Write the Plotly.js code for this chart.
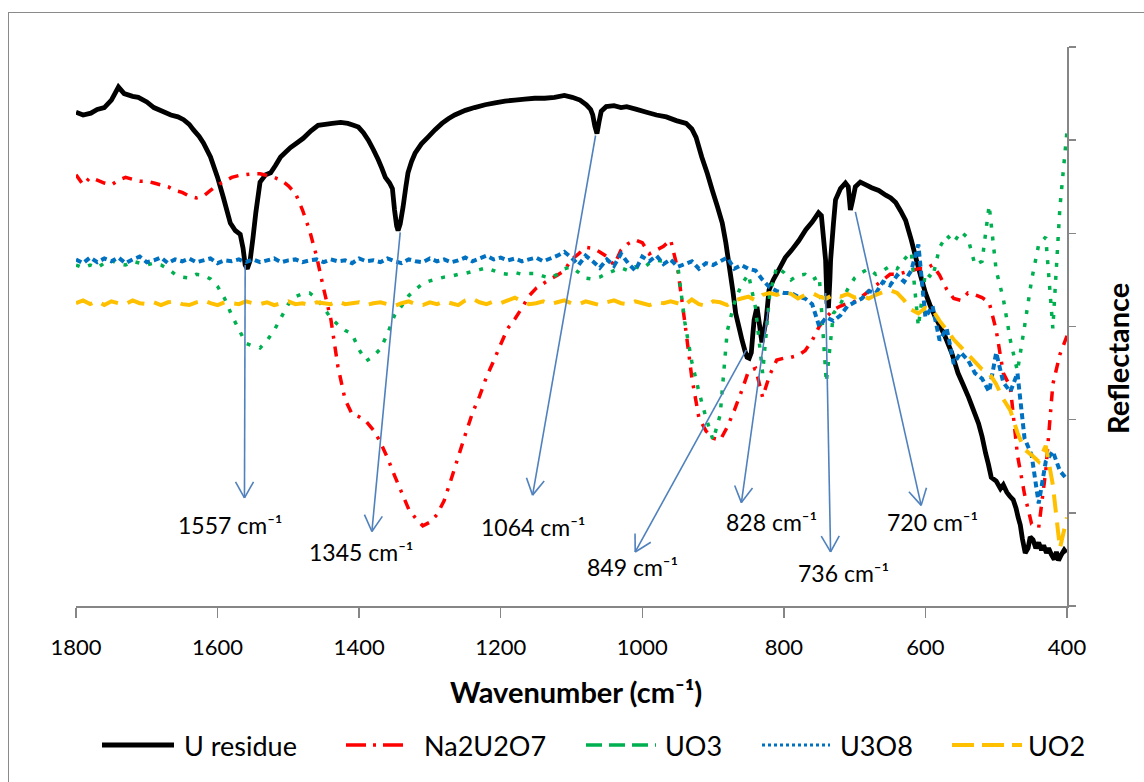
<!DOCTYPE html>
<html><head><meta charset="utf-8">
<script src="https://cdn.plot.ly/plotly-3.0.1.min.js"></script>
<style>
html,body{margin:0;padding:0;background:#fff;}
#wrap{position:relative;width:1144px;height:782px;overflow:hidden;}
#chart{width:1144px;height:782px;}
#frame{position:absolute;left:8px;top:12px;width:1200px;height:820px;border:1.5px solid #8a8a8a;pointer-events:none;box-sizing:border-box;}
</style></head>
<body><div id="wrap"><div id="chart"></div><div id="frame"></div></div>
<script>
// ---------- DATA ----------
const seriesNames = ['U residue', 'Na2U2O7', 'UO3', 'U3O8', 'UO2'];

// U residue spectrum (own sampling)
const uResidueWn = [1800,1790,1779,1770,1760,1750,1740,1732,1720,1712,1700,1690,1678,1666,1656,1648,1640,1634,1626,1620,
1610,1600,1592,1582,1575,1568,1564,1561,1558,1554,1550,1546,1540,1532,1525,1518,1511,1504,1497,1488,
1479,1468,1458,1448,1438,1426,1416,1408,1401,1394,1387,1380,1373,1368,1363,1357,1353,1350,1347,1345,
1342,1338,1334,1331,1326,1321,1312,1303,1293,1283,1274,1265,1250,1237,1222,1208,1194,1180,1166,1152,
1138,1124,1110,1099,1088,1079,1073,1070,1067,1064,1061,1058,1051,1040,1030,1022,1008,994,980,966,
952,938,930,924,916,908,901,894,887,882,877,872,868,863,859,855,852,849,846,844,
842,838,835,831,828,825,821,815,807,798,789,779,769,760,751,747,744,741,739,737,
735,734,730,727,720,713,709,706,703,699,692,684,676,666,656,649,642,635,628,620,
614,607,600,593,586,579,572,563,554,547,539,532,525,520,515,511,507,500,494,490,
485,481,476,472,469,466,463,459,455,452,448,444,440,436,433,429,426,422,418,415,
412,408,404,401];
const uResidueR = [5.30,5.27,5.29,5.33,5.35,5.43,5.57,5.50,5.47,5.46,5.41,5.35,5.31,5.27,5.25,5.22,5.17,5.11,5.04,4.97,
4.82,4.60,4.39,4.11,4.03,3.99,3.84,3.66,3.62,3.71,3.95,4.22,4.55,4.63,4.65,4.73,4.82,4.87,4.92,4.97,
5.02,5.10,5.16,5.17,5.18,5.19,5.18,5.16,5.14,5.08,5.00,4.90,4.79,4.70,4.60,4.54,4.48,4.25,4.08,4.03,
4.10,4.28,4.50,4.65,4.77,4.86,4.96,5.03,5.11,5.18,5.23,5.27,5.32,5.35,5.38,5.40,5.42,5.43,5.44,5.45,
5.45,5.46,5.48,5.46,5.43,5.38,5.33,5.27,5.15,5.07,5.20,5.31,5.36,5.37,5.35,5.36,5.33,5.30,5.27,5.25,
5.21,5.18,5.12,5.03,4.82,4.64,4.46,4.29,4.11,3.90,3.64,3.38,3.14,2.98,2.85,2.74,2.67,2.66,2.72,2.90,
3.07,3.21,3.05,2.83,2.95,3.07,3.39,3.50,3.61,3.74,3.82,3.92,4.04,4.12,4.22,4.19,3.95,3.71,3.25,3.20,
3.50,3.71,4.10,4.36,4.48,4.54,4.50,4.25,4.35,4.50,4.55,4.52,4.49,4.46,4.41,4.38,4.33,4.24,4.14,3.93,
3.75,3.55,3.36,3.22,3.10,3.00,2.89,2.72,2.50,2.38,2.24,2.10,1.96,1.82,1.64,1.52,1.38,1.34,1.26,1.30,
1.22,1.18,1.14,1.05,0.95,0.87,0.72,0.57,0.62,0.74,0.71,0.62,0.68,0.60,0.65,0.57,0.62,0.55,0.50,0.58,
0.49,0.55,0.60,0.57];

// Reference spectra sampled every 10 cm-1
const refWn = [1800,1790,1780,1770,1760,1750,1740,1730,1720,1710,
1700,1690,1680,1670,1660,1650,1640,1630,1620,1610,
1600,1590,1580,1570,1560,1550,1540,1530,1520,1510,
1500,1490,1480,1470,1460,1450,1440,1430,1420,1410,
1400,1390,1380,1370,1360,1350,1340,1330,1320,1310,
1300,1290,1280,1270,1260,1250,1240,1230,1220,1210,
1200,1190,1180,1170,1160,1150,1140,1130,1120,1110,
1100,1090,1080,1070,1060,1050,1040,1030,1020,1010,
1000,990,980,970,960,950,940,930,920,910,
900,890,880,870,860,850,840,830,820,810,
800,790,780,770,760,750,740,730,720,710,
700,690,680,670,660,650,640,630,620,610,
600,590,580,570,560,550,540,530,520,510,
500,490,480,470,460,450,440,430,420,410,
400];

const na2u2o7R = [4.63,4.52,4.60,4.57,4.54,4.52,4.57,4.60,4.58,4.56,
4.56,4.54,4.52,4.50,4.46,4.44,4.40,4.38,4.40,4.46,
4.52,4.56,4.60,4.62,4.63,4.64,4.64,4.62,4.60,4.57,
4.51,4.43,4.25,4.03,3.75,3.40,3.08,2.57,2.22,2.06,
2.03,1.98,1.89,1.76,1.59,1.40,1.22,1.04,0.94,0.86,
0.90,0.98,1.13,1.36,1.60,1.84,2.07,2.25,2.46,2.63,
2.81,2.98,3.08,3.20,3.33,3.41,3.46,3.51,3.55,3.60,
3.72,3.78,3.85,3.84,3.80,3.75,3.66,3.82,3.89,3.93,
3.90,3.78,3.82,3.86,3.93,3.62,3.05,2.45,2.02,1.88,
1.80,1.78,1.92,2.10,2.30,2.52,2.55,2.24,2.48,2.64,
2.66,2.67,2.69,2.74,2.85,3.00,3.10,3.18,3.22,3.25,
3.27,3.32,3.38,3.44,3.50,3.56,3.56,3.58,3.60,3.62,
3.62,3.66,3.55,3.40,3.30,3.28,3.36,3.34,3.31,3.26,
2.96,2.50,2.35,1.62,1.20,0.88,0.84,1.45,2.38,2.70,
2.90];

const uo3R = [3.66,3.63,3.66,3.63,3.68,3.71,3.67,3.66,3.70,3.68,
3.66,3.68,3.66,3.62,3.56,3.53,3.52,3.56,3.55,3.51,
3.43,3.30,3.12,2.97,2.82,2.79,2.77,2.85,2.96,3.10,
3.24,3.32,3.35,3.36,3.30,3.20,3.09,3.02,2.96,2.92,
2.75,2.63,2.68,2.76,2.92,3.12,3.22,3.33,3.40,3.46,
3.49,3.51,3.53,3.54,3.56,3.57,3.59,3.61,3.63,3.60,
3.57,3.56,3.58,3.56,3.57,3.57,3.54,3.52,3.56,3.62,
3.64,3.58,3.52,3.51,3.53,3.57,3.60,3.63,3.60,3.64,
3.62,3.68,3.71,3.70,3.71,3.66,3.05,2.62,2.30,2.02,
1.78,2.05,2.95,3.25,3.45,3.56,3.20,2.50,3.35,3.64,
3.58,3.50,3.55,3.56,3.50,3.54,2.40,3.14,3.24,3.40,
3.52,3.58,3.62,3.56,3.60,3.65,3.62,3.72,3.80,3.00,
3.58,3.52,3.85,3.98,3.90,4.02,3.95,3.66,3.70,4.30,
3.60,3.30,2.85,2.52,3.00,3.50,3.88,3.96,2.98,4.28,
5.10];

const u3o8R = [3.72,3.68,3.74,3.69,3.73,3.70,3.74,3.68,3.72,3.75,
3.69,3.71,3.74,3.68,3.72,3.70,3.73,3.69,3.71,3.73,
3.68,3.71,3.70,3.72,3.69,3.72,3.69,3.71,3.73,3.69,
3.71,3.72,3.69,3.71,3.72,3.69,3.72,3.70,3.71,3.68,
3.73,3.70,3.71,3.69,3.73,3.70,3.68,3.72,3.70,3.69,
3.73,3.70,3.72,3.69,3.71,3.74,3.70,3.73,3.76,3.72,
3.74,3.71,3.73,3.70,3.72,3.74,3.70,3.73,3.76,3.80,
3.74,3.66,3.76,3.70,3.63,3.72,3.65,3.78,3.68,3.60,
3.75,3.70,3.76,3.67,3.72,3.64,3.67,3.70,3.62,3.68,
3.66,3.70,3.74,3.62,3.66,3.62,3.60,3.50,3.42,3.38,
3.36,3.36,3.32,3.30,3.24,3.00,3.10,3.06,3.12,3.22,
3.26,3.30,3.38,3.36,3.48,3.44,3.55,3.48,3.60,3.88,
3.10,3.22,2.85,2.98,2.60,2.72,2.64,2.50,2.44,2.30,
2.72,2.40,2.30,2.50,1.80,1.62,1.10,1.55,1.66,1.45,
1.36];

const uo2R = [3.25,3.28,3.24,3.27,3.23,3.27,3.25,3.24,3.28,3.25,
3.24,3.26,3.23,3.26,3.27,3.24,3.23,3.26,3.28,3.25,
3.23,3.26,3.25,3.24,3.27,3.25,3.24,3.26,3.23,3.25,
3.27,3.24,3.25,3.23,3.26,3.25,3.24,3.27,3.24,3.25,
3.26,3.23,3.25,3.26,3.24,3.22,3.25,3.27,3.24,3.23,
3.26,3.24,3.27,3.25,3.23,3.28,3.30,3.26,3.24,3.27,
3.25,3.28,3.31,3.27,3.24,3.25,3.27,3.24,3.26,3.28,
3.25,3.24,3.27,3.25,3.23,3.26,3.28,3.25,3.24,3.27,
3.25,3.23,3.26,3.25,3.27,3.25,3.23,3.29,3.24,3.22,
3.27,3.26,3.23,3.28,3.30,3.32,3.28,3.34,3.36,3.34,
3.37,3.35,3.30,3.34,3.36,3.32,3.30,3.34,3.32,3.35,
3.31,3.33,3.30,3.34,3.37,3.39,3.36,3.28,3.18,3.14,
3.20,3.18,3.06,2.96,2.86,2.78,2.70,2.62,2.54,2.50,
2.38,2.22,2.10,1.86,1.68,1.62,1.55,1.72,1.30,0.62,
0.95];

// Peak annotations
const peakLabels = ['1557', '1345', '1064', '849', '828', '736', '720'];
const peakTailWn = [1561, 1342, 1066, 853, 822, 741, 699];
const peakTailR  = [3.66, 4.01, 5.05, 2.75, 3.18, 3.36, 4.23];
const arrowHeadWn = [1562, 1382, 1155, 1010, 860, 734, 606];
const arrowHeadR  = [1.16, 0.80, 1.19, 0.58, 1.11, 0.58, 1.08];
const labelWn = [1582, 1396, 1153, 1014, 818, 716, 590];
const labelR  = [0.87, 0.58, 0.85, 0.42, 0.90, 0.35, 0.90];
const unitText = ' cm\u207B\u00B9';

const xTickVals = [1800, 1600, 1400, 1200, 1000, 800, 600, 400];

// ---------- STYLE ----------
const FONT = 'Lato, "Open Sans", sans-serif';
const colors = ['#000000', '#FF0000', '#00B050', '#0070C0', '#FFC000'];
const widths = [4.8, 3.5, 3.5, 4, 4];
const dashes = ['solid', '10px,8px,3px,8px', '4px,9px', '6px,4px', '18px,10px'];
const legendDashes = ['solid', '20px,7px,3px,7px', '16px,7px', '3px,3px', '22px,8px'];
const legendWidths = [5, 3.5, 3.5, 3, 4];
const arrowColor = '#4F81BD';

const M = {l: 76, r: 77, t: 47, b: 176};
const W = 1144, H = 782;
const PW = W - M.l - M.r, PH = H - M.t - M.b;
const X0 = 1800, X1 = 400, Y0 = 0, Y1 = 6;
const px2x = px => (px - M.l) / PW;
const py2y = py => (H - M.b - py) / PH;
const wn2px = w => M.l + (X0 - w) / (X0 - X1) * PW;
const r2py = r => M.t + (Y1 - r) / (Y1 - Y0) * PH;
const px2wn = px => X0 - (px - M.l) / PW * (X0 - X1);
const py2r = py => Y1 - (py - M.t) / PH * (Y1 - Y0);

const xs = [uResidueWn, refWn, refWn, refWn, refWn];
const ys = [uResidueR, na2u2o7R, uo3R, u3o8R, uo2R];

const traces = seriesNames.map((n, i) => ({
  type: 'scatter', mode: 'lines', name: n,
  x: xs[i], y: ys[i],
  line: {color: colors[i], width: widths[i], dash: dashes[i], simplify: false},
  hoverinfo: 'skip', showlegend: false
}));

const annotations = [];
const shapes = [];

// arrows: line from peak to head, open V head
peakLabels.forEach((p, i) => {
  const tx = wn2px(peakTailWn[i]), ty = r2py(peakTailR[i]);
  const hx = wn2px(arrowHeadWn[i]), hy = r2py(arrowHeadR[i]);
  const dx = hx - tx, dy = hy - ty, len = Math.hypot(dx, dy);
  const ux = dx / len, uy = dy / len, nx = -uy, ny = ux;
  const L = 16, Wd = 9;
  const arms = [[hx - ux * L + nx * Wd, hy - uy * L + ny * Wd], [hx - ux * L - nx * Wd, hy - uy * L - ny * Wd]];
  const st = {color: arrowColor, width: 1.6};
  shapes.push({type: 'line', xref: 'x', yref: 'y', x0: peakTailWn[i], y0: peakTailR[i], x1: arrowHeadWn[i], y1: arrowHeadR[i], line: st});
  arms.forEach(a => shapes.push({type: 'line', xref: 'x', yref: 'y', x0: arrowHeadWn[i], y0: arrowHeadR[i], x1: px2wn(a[0]), y1: py2r(a[1]), line: st}));
  annotations.push({
    x: labelWn[i], y: labelR[i], xref: 'x', yref: 'y',
    text: p + unitText, showarrow: false,
    xanchor: 'center', yanchor: 'middle',
    font: {family: FONT, size: 23, color: '#000'}
  });
});

// axis titles
annotations.push({
  x: px2x(576), y: py2y(691), xref: 'paper', yref: 'paper',
  text: '<b>Wavenumber (cm\u207B\u00B9)</b>', showarrow: false,
  xanchor: 'center', yanchor: 'middle', font: {family: FONT, size: 29, color: '#000'}
});
annotations.push({
  x: px2x(1117), y: py2y(359), xref: 'paper', yref: 'paper',
  text: '<b>Reflectance</b>', showarrow: false, textangle: -90,
  xanchor: 'center', yanchor: 'middle', font: {family: FONT, size: 29, color: '#000'}
});

// custom legend
const legSample = [[102, 174], [346, 410], [586, 656], [762, 830], [952, 1022]];
const legText = [182, 422, 663, 838, 1026];
const legY = 745;
seriesNames.forEach((n, i) => {
  shapes.push({
    type: 'line', xref: 'paper', yref: 'paper',
    x0: px2x(legSample[i][0]), x1: px2x(legSample[i][1]),
    y0: py2y(legY), y1: py2y(legY),
    line: {color: colors[i], width: legendWidths[i], dash: legendDashes[i]}
  });
  annotations.push({
    x: px2x(legText[i]), y: py2y(legY), xref: 'paper', yref: 'paper',
    text: n, showarrow: false, xanchor: 'left', yanchor: 'middle',
    font: {family: FONT, size: 27, color: '#000'}
  });
});

const layout = {
  width: W, height: H,
  margin: M,
  paper_bgcolor: '#fff', plot_bgcolor: '#fff',
  showlegend: false,
  font: {family: FONT, color: '#000'},
  xaxis: {
    range: [X0, X1], autorange: false,
    tickvals: xTickVals, ticktext: xTickVals.map(String),
    ticks: 'outside', ticklen: 10, tickwidth: 1.5, tickcolor: '#868686',
    showline: true, linecolor: '#868686', linewidth: 1.5,
    showgrid: false, zeroline: false,
    tickfont: {family: FONT, size: 22, color: '#000'},
    ticklabelstandoff: 11
  },
  yaxis: {
    range: [Y0, Y1], autorange: false, side: 'right',
    dtick: 1, tick0: 0,
    ticks: 'outside', ticklen: 7, tickwidth: 1.5, tickcolor: '#868686',
    showline: true, linecolor: '#868686', linewidth: 1.5,
    showgrid: false, zeroline: false, showticklabels: false
  },
  annotations: annotations,
  shapes: shapes
};

Plotly.newPlot('chart', traces, layout, {displayModeBar: false, staticPlot: true});
</script>
</body></html>
